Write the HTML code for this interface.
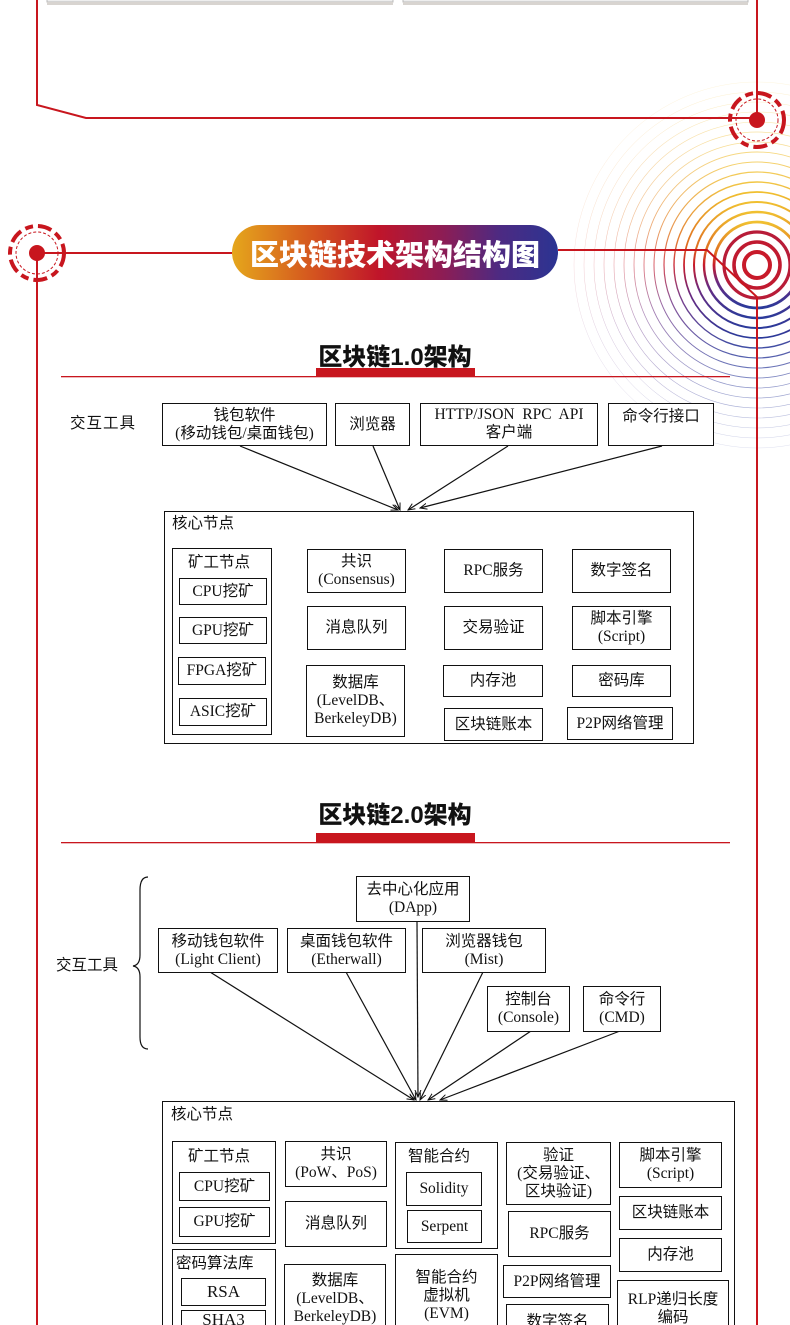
<!DOCTYPE html>
<html><head><meta charset="utf-8">
<style>
*{margin:0;padding:0;box-sizing:border-box}
html,body{width:790px;height:1325px;overflow:hidden;background:#fff}
body{position:relative;font-family:"Liberation Serif","Noto Sans CJK SC",serif;color:#111}
svg.bg{position:absolute;left:0;top:0}
.b{position:absolute;border:1.6px solid #111;background:#fff;display:flex;flex-direction:column;align-items:center;justify-content:center;text-align:center;font-size:15.5px;line-height:18px;white-space:nowrap}
.bn{position:absolute;border:1.6px solid #111;background:transparent}
.t{position:absolute;font-size:15.5px;white-space:nowrap;line-height:18px}
.h{position:absolute;font-family:"Liberation Sans","Noto Sans CJK SC",sans-serif;font-weight:900;font-size:24px;left:0;width:790px;text-align:center}
.pill{position:absolute;left:232px;top:225px;width:326px;height:55px;border-radius:28px;background:linear-gradient(90deg,#e5a71c 0%,#d4541f 25%,#c0152a 45%,#8c1d55 65%,#4d2a82 82%,#2b3492 100%);color:#fff;font-family:"Liberation Sans","Noto Sans CJK SC",sans-serif;font-weight:900;font-size:29px;display:flex;align-items:center;justify-content:center}
</style></head><body>
<svg class="bg" width="790" height="1325" viewBox="0 0 790 1325">
<defs>
<linearGradient id="rg" x1="0" y1="0" x2="0" y2="1" gradientUnits="objectBoundingBox">
<stop offset="0" stop-color="#f0c030"/><stop offset="0.35" stop-color="#e07020"/><stop offset="0.5" stop-color="#c81a2a"/><stop offset="0.7" stop-color="#6a2a80"/><stop offset="1" stop-color="#2a3a9a"/>
</linearGradient>
<marker id="ar" markerWidth="8" markerHeight="8" refX="7" refY="4" orient="auto" markerUnits="userSpaceOnUse"><path d="M0,1 L7,4 L0,7" fill="none" stroke="#111" stroke-width="1"/></marker>
</defs>
<rect x="47" y="-10" width="346" height="12" fill="#eee" stroke="#bbb"/>
<rect x="403" y="-10" width="345" height="12" fill="#eee" stroke="#bbb"/>
<rect x="47" y="2" width="346" height="3" fill="#d8d4d0"/>
<rect x="403" y="2" width="345" height="3" fill="#d8d4d0"/>
<g fill="none">
<circle cx="757" cy="265" r="13" stroke="#c81a2a" stroke-width="4"/>
<circle cx="757" cy="265" r="23" stroke="#c01a30" stroke-width="3.6"/>
<circle cx="757" cy="265" r="33" stroke="#b81c38" stroke-width="3.2"/>
<circle cx="757" cy="265" r="43" stroke="url(#rg)" stroke-width="2.8"/>
<circle cx="757" cy="265" r="53" stroke="url(#rg)" stroke-width="2.4"/>
<circle cx="757" cy="265" r="63" stroke="url(#rg)" stroke-width="2"/>
<circle cx="757" cy="265" r="73" stroke="url(#rg)" stroke-width="1.7"/>
<circle cx="757" cy="265" r="83" stroke="url(#rg)" stroke-width="1.4" opacity="0.9"/>
<circle cx="757" cy="265" r="93" stroke="url(#rg)" stroke-width="1.2" opacity="0.8"/>
<circle cx="757" cy="265" r="103" stroke="url(#rg)" stroke-width="1" opacity="0.7"/>
<circle cx="757" cy="265" r="113" stroke="url(#rg)" stroke-width="0.9" opacity="0.6"/>
<circle cx="757" cy="265" r="123" stroke="url(#rg)" stroke-width="0.8" opacity="0.5"/>
<circle cx="757" cy="265" r="133" stroke="url(#rg)" stroke-width="0.7" opacity="0.45"/>
<circle cx="757" cy="265" r="143" stroke="url(#rg)" stroke-width="0.6" opacity="0.4"/>
<circle cx="757" cy="265" r="153" stroke="url(#rg)" stroke-width="0.6" opacity="0.33"/>
<circle cx="757" cy="265" r="163" stroke="url(#rg)" stroke-width="0.5" opacity="0.28"/>
<circle cx="757" cy="265" r="173" stroke="url(#rg)" stroke-width="0.5" opacity="0.22"/>
<circle cx="757" cy="265" r="183" stroke="url(#rg)" stroke-width="0.5" opacity="0.16"/>
</g>
<g stroke="#c8161e" fill="none" stroke-width="2">
<path d="M37,0 V105 L86,118 H757"/>
<path d="M757,0 V120"/>
<path d="M37,253 H232"/>
<path d="M558,250 H707 L757,297 V1325"/>
<path d="M37,253 V1325"/>
</g>
<g fill="#c8161e">
<circle cx="757" cy="120" r="8"/>
<circle cx="37" cy="253" r="8"/>
</g>
<g fill="none" stroke="#c8161e">
<circle cx="757" cy="120" r="27" stroke-width="4" stroke-dasharray="14 5 8 5"/>
<circle cx="757" cy="120" r="21" stroke-width="1" stroke-dasharray="3 2"/>
<circle cx="37" cy="253" r="27" stroke-width="4" stroke-dasharray="14 5 8 5"/>
<circle cx="37" cy="253" r="21" stroke-width="1" stroke-dasharray="3 2"/>
</g>
<rect x="61" y="376" width="669" height="1.3" fill="#c8161e"/>
<rect x="316" y="368" width="159" height="9" fill="#c8161e"/>
<rect x="61" y="842" width="669" height="1.3" fill="#c8161e"/>
<rect x="316" y="833" width="159" height="10" fill="#c8161e"/>
<g stroke="#111" stroke-width="1.2" fill="none" marker-end="url(#ar)">
<line x1="240" y1="446" x2="398" y2="510"/>
<line x1="373" y1="446" x2="400" y2="510"/>
<line x1="508" y1="446" x2="408" y2="510"/>
<line x1="662" y1="446" x2="420" y2="508"/>
</g>
<g stroke="#111" stroke-width="1.2" fill="none" marker-end="url(#ar)">
<line x1="210" y1="972" x2="414" y2="1100"/>
<line x1="346" y1="972" x2="416" y2="1100"/>
<line x1="417" y1="922" x2="418" y2="1097"/>
<line x1="483" y1="972" x2="420" y2="1100"/>
<line x1="531" y1="1031" x2="428" y2="1100"/>
<line x1="620" y1="1031" x2="440" y2="1100"/>
</g>
<path d="M148,877 Q140,877 140,890 V955 Q140,965 133,966 Q140,967 140,977 V1037 Q140,1049 148,1049" fill="none" stroke="#111" stroke-width="1.2"/>
</svg>

<div class="pill">区块链技术架构结构图</div>
<div class="h" style="top:337px">区块链1.0架构</div>
<div class="h" style="top:795px">区块链2.0架构</div>

<div class="t" style="left:70px;top:415px;font-family:'Liberation Sans','Noto Sans CJK SC',sans-serif;letter-spacing:1px">交互工具</div>
<div class="b" style="left:162px;top:403px;width:165px;height:43px">钱包软件<br>(移动钱包/桌面钱包)</div>
<div class="b" style="left:335px;top:403px;width:75px;height:43px">浏览器</div>
<div class="b" style="left:420px;top:403px;width:178px;height:43px;justify-content:flex-start;padding-top:2px">HTTP/JSON&nbsp; RPC&nbsp; API<br>客户端</div>
<div class="b" style="left:608px;top:403px;width:106px;height:43px;justify-content:flex-start;padding-top:4px">命令行接口</div>

<div class="bn" style="left:164px;top:511px;width:530px;height:233px"></div>
<div class="t" style="left:172px;top:515px">核心节点</div>
<div class="bn" style="left:172px;top:548px;width:100px;height:187px"></div>
<div class="t" style="left:188px;top:554px">矿工节点</div>
<div class="b" style="left:179px;top:578px;width:88px;height:27px">CPU挖矿</div>
<div class="b" style="left:179px;top:617px;width:88px;height:27px">GPU挖矿</div>
<div class="b" style="left:178px;top:657px;width:88px;height:28px">FPGA挖矿</div>
<div class="b" style="left:179px;top:698px;width:88px;height:28px">ASIC挖矿</div>
<div class="b" style="left:307px;top:549px;width:99px;height:44px">共识<br>(Consensus)</div>
<div class="b" style="left:307px;top:606px;width:99px;height:44px">消息队列</div>
<div class="b" style="left:306px;top:665px;width:99px;height:72px">数据库<br>(LevelDB、<br>BerkeleyDB)</div>
<div class="b" style="left:444px;top:549px;width:99px;height:44px">RPC服务</div>
<div class="b" style="left:444px;top:606px;width:99px;height:44px">交易验证</div>
<div class="b" style="left:443px;top:665px;width:100px;height:32px">内存池</div>
<div class="b" style="left:444px;top:708px;width:99px;height:33px">区块链账本</div>
<div class="b" style="left:572px;top:549px;width:99px;height:44px">数字签名</div>
<div class="b" style="left:572px;top:606px;width:99px;height:44px">脚本引擎<br>(Script)</div>
<div class="b" style="left:572px;top:665px;width:99px;height:32px">密码库</div>
<div class="b" style="left:567px;top:707px;width:106px;height:33px">P2P网络管理</div>

<div class="t" style="left:56px;top:957px;font-family:'Liberation Sans','Noto Sans CJK SC',sans-serif">交互工具</div>
<div class="b" style="left:356px;top:876px;width:114px;height:46px">去中心化应用<br>(DApp)</div>
<div class="b" style="left:158px;top:928px;width:120px;height:45px">移动钱包软件<br>(Light Client)</div>
<div class="b" style="left:287px;top:928px;width:119px;height:45px">桌面钱包软件<br>(Etherwall)</div>
<div class="b" style="left:422px;top:928px;width:124px;height:45px">浏览器钱包<br>(Mist)</div>
<div class="b" style="left:487px;top:986px;width:83px;height:46px">控制台<br>(Console)</div>
<div class="b" style="left:583px;top:986px;width:78px;height:46px">命令行<br>(CMD)</div>

<div class="bn" style="left:162px;top:1101px;width:573px;height:240px"></div>
<div class="t" style="left:171px;top:1106px">核心节点</div>
<div class="bn" style="left:172px;top:1141px;width:104px;height:103px"></div>
<div class="t" style="left:188px;top:1148px">矿工节点</div>
<div class="b" style="left:179px;top:1172px;width:91px;height:29px">CPU挖矿</div>
<div class="b" style="left:179px;top:1207px;width:91px;height:30px">GPU挖矿</div>
<div class="bn" style="left:172px;top:1249px;width:104px;height:100px"></div>
<div class="t" style="left:176px;top:1255px">密码算法库</div>
<div class="b" style="left:181px;top:1278px;width:85px;height:28px;font-size:17px">RSA</div>
<div class="b" style="left:181px;top:1310px;width:85px;height:28px;font-size:17px;justify-content:flex-start">SHA3</div>
<div class="b" style="left:285px;top:1141px;width:102px;height:46px">共识<br>(PoW、PoS)</div>
<div class="b" style="left:285px;top:1201px;width:102px;height:46px">消息队列</div>
<div class="b" style="left:284px;top:1264px;width:102px;height:80px;justify-content:flex-start;padding-top:7px">数据库<br>(LevelDB、<br>BerkeleyDB)</div>
<div class="bn" style="left:395px;top:1142px;width:103px;height:107px"></div>
<div class="t" style="left:408px;top:1148px">智能合约</div>
<div class="b" style="left:406px;top:1172px;width:76px;height:34px">Solidity</div>
<div class="b" style="left:407px;top:1210px;width:75px;height:33px">Serpent</div>
<div class="b" style="left:395px;top:1254px;width:103px;height:90px;justify-content:flex-start;padding-top:14px">智能合约<br>虚拟机<br>(EVM)</div>
<div class="b" style="left:506px;top:1142px;width:105px;height:63px">验证<br>(交易验证、<br>区块验证)</div>
<div class="b" style="left:508px;top:1211px;width:103px;height:46px">RPC服务</div>
<div class="b" style="left:503px;top:1265px;width:108px;height:33px">P2P网络管理</div>
<div class="b" style="left:506px;top:1304px;width:103px;height:40px;justify-content:flex-start;padding-top:8px">数字签名</div>
<div class="b" style="left:619px;top:1142px;width:103px;height:46px">脚本引擎<br>(Script)</div>
<div class="b" style="left:619px;top:1196px;width:103px;height:34px">区块链账本</div>
<div class="b" style="left:619px;top:1238px;width:103px;height:34px">内存池</div>
<div class="b" style="left:617px;top:1280px;width:112px;height:60px;justify-content:flex-start;padding-top:10px">RLP递归长度<br>编码</div>
</body></html>
